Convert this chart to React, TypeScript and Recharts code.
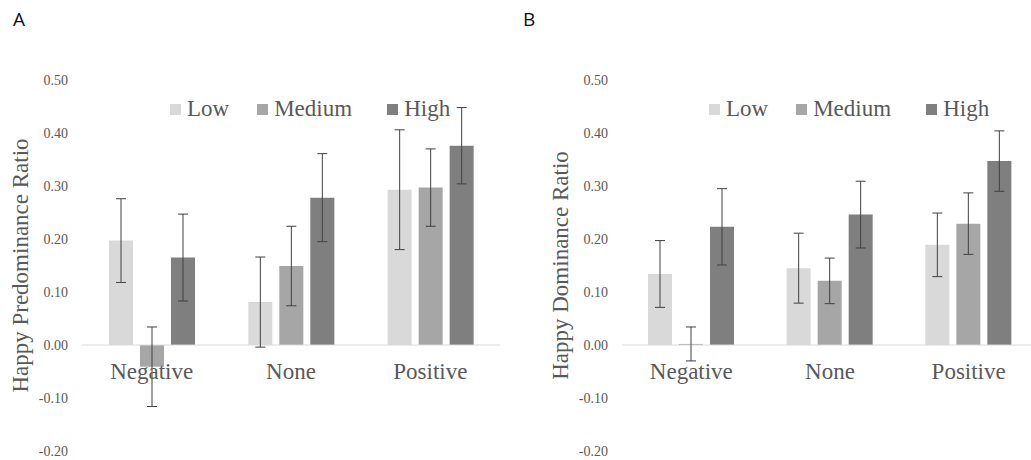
import React from 'react';
import { BarChart, Bar, XAxis, YAxis, ErrorBar, ReferenceLine, Legend } from 'recharts';

const categories = ['Negative', 'None', 'Positive'];
const seriesNames = ['Low', 'Medium', 'High'];
const yTicks = [-0.2, -0.1, 0, 0.1, 0.2, 0.3, 0.4, 0.5];

// Panel A - Happy Predominance Ratio
const predLow = [0.197, 0.081, 0.293];
const predLowErr = [0.079, 0.085, 0.113];
const predMedium = [-0.041, 0.149, 0.297];
const predMediumErr = [0.075, 0.075, 0.073];
const predHigh = [0.165, 0.278, 0.376];
const predHighErr = [0.082, 0.083, 0.072];

// Panel B - Happy Dominance Ratio
const domLow = [0.134, 0.145, 0.189];
const domLowErr = [0.063, 0.066, 0.06];
const domMedium = [0.002, 0.121, 0.229];
const domMediumErr = [0.032, 0.043, 0.058];
const domHigh = [0.223, 0.246, 0.347];
const domHighErr = [0.072, 0.063, 0.057];

const COLORS = ['#d9d9d9', '#a6a6a6', '#7f7f7f'];
const TEXT = '#595959';
const SERIF = '"Liberation Serif", "Times New Roman", serif';

const Y_MIN = -0.2;
const Y_MAX = 0.5;
const CHART_W = 520;
const CHART_H = 460;
const PLOT_TOP = 80;
const PLOT_BOTTOM = 8;
const X_AXIS_H = 1;
const PLOT_H = CHART_H - PLOT_TOP - PLOT_BOTTOM - X_AXIS_H;
// where the zero line sits, so the category names can hang under it
const ZERO_Y = PLOT_TOP + (Y_MAX / (Y_MAX - Y_MIN)) * PLOT_H;

const buildRows = (low: number[], lowErr: number[], med: number[], medErr: number[], high: number[], highErr: number[]) =>
  categories.map((c, i) => ({
    category: c,
    Low: low[i],
    LowErr: lowErr[i],
    Medium: med[i],
    MediumErr: medErr[i],
    High: high[i],
    HighErr: highErr[i],
  }));

const predRows = buildRows(predLow, predLowErr, predMedium, predMediumErr, predHigh, predHighErr);
const domRows = buildRows(domLow, domLowErr, domMedium, domMediumErr, domHigh, domHighErr);

const CategoryTick = (props: any) => {
  const { x, payload } = props;
  return (
    <text x={x} y={ZERO_Y + 34} textAnchor="middle" fill={TEXT} fontSize={23} fontFamily={SERIF}>
      {payload.value}
    </text>
  );
};

const LegendContent = (props: any) => {
  const items = [...(props.payload || [])].sort(
    (a: any, b: any) => seriesNames.indexOf(a.value) - seriesNames.indexOf(b.value)
  );
  return (
    <div style={{ display: 'flex', alignItems: 'center', fontFamily: SERIF, fontSize: 23, color: TEXT, whiteSpace: 'nowrap' }}>
      {items.map((it: any, i: number) => (
        <div key={it.value} style={{ display: 'flex', alignItems: 'center', marginRight: i === 0 ? 28 : 35 }}>
          <span style={{ display: 'inline-block', width: 11, height: 11, background: it.color, marginRight: 6 }} />
          <span>{it.value}</span>
        </div>
      ))}
    </div>
  );
};

interface PanelProps {
  rows: any[];
  yLabel: string;
  axisWidth: number;
  rightMargin: number;
  labelOffset: number;
  legendLeft: number;
}

const Panel: React.FC<PanelProps> = ({ rows, yLabel, axisWidth, rightMargin, labelOffset, legendLeft }) => (
  <BarChart
    width={CHART_W}
    height={CHART_H}
    data={rows}
    margin={{ top: PLOT_TOP, right: rightMargin, bottom: PLOT_BOTTOM, left: 0 }}
    barGap={7}
  >
    <XAxis dataKey="category" axisLine={false} tickLine={false} height={X_AXIS_H} tick={CategoryTick} interval={0} />
    <YAxis
      width={axisWidth}
      domain={[Y_MIN, Y_MAX]}
      ticks={yTicks}
      interval={0}
      tickFormatter={(v: number) => v.toFixed(2)}
      axisLine={false}
      tickLine={false}
      tickMargin={8}
      tick={{ fill: TEXT, fontSize: 14, fontFamily: SERIF }}
      label={{
        value: yLabel,
        angle: -90,
        position: 'insideLeft',
        offset: labelOffset,
        style: { textAnchor: 'middle', fill: TEXT, fontSize: 23, fontFamily: SERIF },
      }}
    />
    <ReferenceLine y={0} stroke="#d9d9d9" strokeWidth={1} />
    <Legend
      layout="horizontal"
      verticalAlign="middle"
      align="center"
      content={<LegendContent />}
      wrapperStyle={{ top: 96, left: legendLeft, width: 'auto' }}
    />
    {seriesNames.map((s, i) => (
      <Bar key={s} dataKey={s} name={s} fill={COLORS[i]} barSize={24} isAnimationActive={false}>
        <ErrorBar dataKey={`${s}Err`} width={5} stroke="#404040" strokeWidth={1} />
      </Bar>
    ))}
  </BarChart>
);

const letterStyle: React.CSSProperties = {
  position: 'absolute',
  top: 6,
  fontFamily: '"Open Sans", "Noto Sans", sans-serif',
  fontSize: 19,
  color: '#111',
};

export default function App() {
  return (
    <div style={{ position: 'absolute', left: 0, top: 0, width: 1031, height: 460, overflow: 'hidden', background: '#fff' }}>
      <div style={{ ...letterStyle, left: 13 }}>A</div>
      <div style={{ ...letterStyle, left: 523 }}>B</div>
      <div style={{ position: 'absolute', left: 0, top: 0 }}>
        <Panel rows={predRows} yLabel="Happy Predominance Ratio" axisWidth={82} rightMargin={20} labelOffset={20} legendLeft={170} />
      </div>
      <div style={{ position: 'absolute', left: 520, top: 0 }}>
        <Panel rows={domRows} yLabel="Happy Dominance Ratio" axisWidth={102} rightMargin={2} labelOffset={40} legendLeft={189} />
      </div>
    </div>
  );
}
